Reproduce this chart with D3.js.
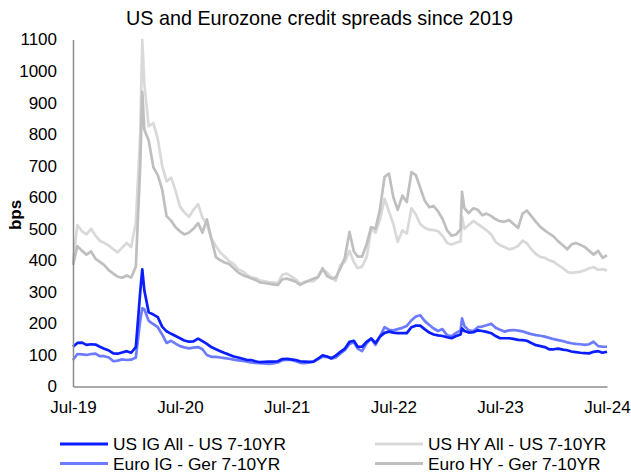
<!DOCTYPE html>
<html>
<head>
<meta charset="utf-8">
<script src="https://cdn.jsdelivr.net/npm/d3@7"></script>
<style>
  body { margin: 0; background: #fff; }
  svg text { font-family: "Liberation Sans", Arial, sans-serif; fill: #000; }
</style>
</head>
<body>
<div id="chart"></div>
<script>
var svgWidth = 631;
var svgHeight = 473;

var margin = { top: 39.5, right: 24, bottom: 86.5, left: 73 };
var chartWidth = svgWidth - margin.left - margin.right;
var chartHeight = svgHeight - margin.top - margin.bottom;

// half-monthly readings (plus a couple of spike days)
var dates = [
  "2019-07-01","2019-07-16","2019-08-01","2019-08-16","2019-09-01","2019-09-16","2019-10-01","2019-10-16","2019-11-01","2019-11-16","2019-12-01","2019-12-16",
  "2020-01-01","2020-01-16","2020-02-01","2020-02-16","2020-02-23","2020-03-01","2020-03-16","2020-04-01","2020-04-16","2020-05-01","2020-05-16","2020-06-01","2020-06-16",
  "2020-07-01","2020-07-16","2020-08-01","2020-08-16","2020-09-01","2020-09-16","2020-10-01","2020-10-16","2020-11-01","2020-11-16","2020-12-01","2020-12-16",
  "2021-01-01","2021-01-16","2021-02-01","2021-02-16","2021-03-01","2021-03-16","2021-04-01","2021-04-16","2021-05-01","2021-05-16","2021-06-01","2021-06-16",
  "2021-07-01","2021-07-16","2021-08-01","2021-08-16","2021-09-01","2021-09-16","2021-10-01","2021-10-16","2021-11-01","2021-11-16","2021-12-01","2021-12-16",
  "2022-01-01","2022-01-16","2022-02-01","2022-02-16","2022-03-01","2022-03-16","2022-04-01","2022-04-16","2022-05-01","2022-05-16","2022-06-01","2022-06-16",
  "2022-07-01","2022-07-16","2022-08-01","2022-08-16","2022-09-01","2022-09-16","2022-10-01","2022-10-16","2022-11-01","2022-11-16","2022-12-01","2022-12-16",
  "2023-01-01","2023-01-16","2023-02-01","2023-02-16","2023-02-21","2023-03-01","2023-03-16","2023-04-01","2023-04-16","2023-05-01","2023-05-16","2023-06-01","2023-06-16",
  "2023-07-01","2023-07-16","2023-08-01","2023-08-16","2023-09-01","2023-09-16","2023-10-01","2023-10-16","2023-11-01","2023-11-16","2023-12-01","2023-12-16",
  "2024-01-01","2024-01-16","2024-02-01","2024-02-16","2024-03-01","2024-03-16","2024-04-01","2024-04-16","2024-05-01","2024-05-16","2024-06-01","2024-06-16",
  "2024-07-01"
];

var usIG = [
  126,138,139,132,134,133,126,120,114,105,104,108,
  112,107,125,300,371,305,235,228,220,190,175,167,160,
  153,146,142,143,152,144,135,125,118,112,106,101,
  95,92,88,84,84,80,77,78,79,79,80,87,
  88,86,84,80,79,78,79,88,99,95,90,98,
  110,120,142,145,126,126,142,152,138,158,170,174,
  171,169,169,169,188,193,193,182,171,165,162,160,
  156,153,160,165,184,176,171,172,178,176,173,169,160,
  153,153,153,151,148,147,145,138,131,128,125,118,
  118,120,117,115,111,109,107,106,105,110,112,107,
  110
];

var euroIG = [
  84,103,102,100,103,104,96,96,92,80,82,86,
  84,85,92,210,248,245,208,198,188,165,138,145,136,
  128,124,121,123,125,118,100,94,94,92,90,88,
  85,83,81,79,76,75,74,73,72,73,76,83,
  85,84,80,75,74,76,79,86,95,94,88,92,
  105,115,135,140,120,112,137,152,132,158,188,180,
  178,182,186,192,210,222,226,208,195,184,176,182,
  162,160,170,178,216,192,178,176,188,190,194,199,186,
  180,174,178,179,177,175,170,166,163,161,158,154,
  150,147,144,140,137,135,134,132,134,142,128,126,
  126
];

var usHY = [
  395,512,492,482,500,478,462,455,446,435,425,440,
  455,442,520,800,1098,960,825,835,785,700,650,662,620,
  570,552,538,560,578,535,515,470,445,425,412,398,
  388,372,365,353,346,344,336,334,330,330,328,355,
  358,350,340,325,332,335,333,348,369,362,345,335,
  385,395,430,395,375,380,411,500,487,528,595,555,
  515,458,495,485,565,545,515,503,497,496,492,478,
  455,450,456,460,538,500,512,525,515,505,495,482,458,
  448,442,435,438,446,462,454,435,420,411,408,400,
  395,385,375,364,360,362,364,368,375,378,370,372,
  368
];

var euroHY = [
  385,445,430,418,428,405,395,385,368,358,348,345,
  352,345,380,700,934,815,780,695,670,625,540,525,505,
  492,482,488,500,518,488,530,470,410,400,393,388,
  375,362,353,348,343,338,330,328,326,324,322,340,
  342,338,332,322,330,336,342,346,375,350,343,345,
  375,408,490,428,412,412,452,505,500,560,665,675,
  600,560,605,585,680,670,630,590,568,572,555,532,
  495,478,482,498,617,565,550,565,560,543,548,540,530,
  524,522,528,515,503,548,558,540,522,506,495,485,
  475,460,448,435,450,455,449,442,430,418,430,408,
  416
];

var yTicks = [0, 100, 200, 300, 400, 500, 600, 700, 800, 900, 1000, 1100];
var xTicks = ["2019-07-01", "2020-07-01", "2021-07-01", "2022-07-01", "2023-07-01", "2024-07-01"];

var seriesNames = ["US IG All - US 7-10YR", "US HY All - US 7-10YR", "Euro IG - Ger 7-10YR", "Euro HY - Ger 7-10YR"];
var seriesColors = ["#0A1EFF", "#D9D9D9", "#6D7CFF", "#BFBFBF"];
var seriesValues = [usIG, usHY, euroIG, euroHY];

var parseDate = d3.timeParse("%Y-%m-%d");

var svg = d3.select("#chart")
    .append("svg")
    .attr("width", svgWidth)
    .attr("height", svgHeight);

var chartCanvas = svg.append("g")
    .attr("transform", `translate(${margin.left}, ${margin.top})`);

var xScale = d3.scaleTime()
    .domain([parseDate(xTicks[0]), parseDate(xTicks[xTicks.length - 1])])
    .range([0, chartWidth]);

var yScale = d3.scaleLinear()
    .domain([0, 1100])
    .range([chartHeight, 0]);

/// lines, greys first so the blues sit on top
var drawOrder = [1, 3, 2, 0];
var line = d3.line()
    .x(d => xScale(d.date))
    .y(d => yScale(d.value));

drawOrder.forEach(i => {
    var pts = dates.map((s, j) => ({ date: parseDate(s), value: seriesValues[i][j] }));
    chartCanvas.append("path")
        .datum(pts)
        .attr("fill", "none")
        .attr("stroke", seriesColors[i])
        .attr("stroke-width", 2.7)
        .attr("stroke-linejoin", "round")
        .attr("d", line);
});

/// axes
var xAxis = d3.axisBottom(xScale)
    .tickValues(xTicks.map(parseDate))
    .tickFormat(d3.timeFormat("%b-%y"))
    .tickSizeInner(0)
    .tickSizeOuter(0)
    .tickPadding(14);

var xg = chartCanvas.append("g")
    .attr("transform", `translate(0, ${chartHeight})`)
    .call(xAxis);

var yAxis = d3.axisLeft(yScale)
    .tickValues(yTicks)
    .tickFormat(d3.format("d"))
    .tickSizeInner(0)
    .tickSizeOuter(0)
    .tickPadding(16);

var yg = chartCanvas.append("g")
    .call(yAxis);

[xg, yg].forEach(g => {
    g.select(".domain").attr("stroke", "#8C8C8C").attr("stroke-width", 1.5);
    g.selectAll("text").style("font-size", "17px").attr("fill", "#000");
});

/// title and axis label
svg.append("text")
    .attr("x", 319.5)
    .attr("y", 25)
    .attr("text-anchor", "middle")
    .style("font-size", "19.8px")
    .text("US and Eurozone credit spreads since 2019");

svg.append("text")
    .attr("transform", "translate(21, 215) rotate(-90)")
    .attr("text-anchor", "middle")
    .style("font-size", "17px")
    .style("font-weight", "bold")
    .text("bps");

/// legend, two columns
var legendPos = [[60, 444], [375, 444], [60, 463.5], [375, 463.5]];
var legend = svg.selectAll(".legendItem")
    .data(seriesNames)
    .enter()
    .append("g")
    .attr("class", "legendItem")
    .attr("transform", (d, i) => `translate(${legendPos[i][0]}, ${legendPos[i][1]})`);

legend.append("line")
    .attr("x1", 0)
    .attr("x2", 48)
    .attr("stroke", (d, i) => seriesColors[i])
    .attr("stroke-width", 3);

legend.append("text")
    .attr("x", 53)
    .attr("dy", "0.36em")
    .style("font-size", "17.3px")
    .text(d => d);
</script>
</body>
</html>
